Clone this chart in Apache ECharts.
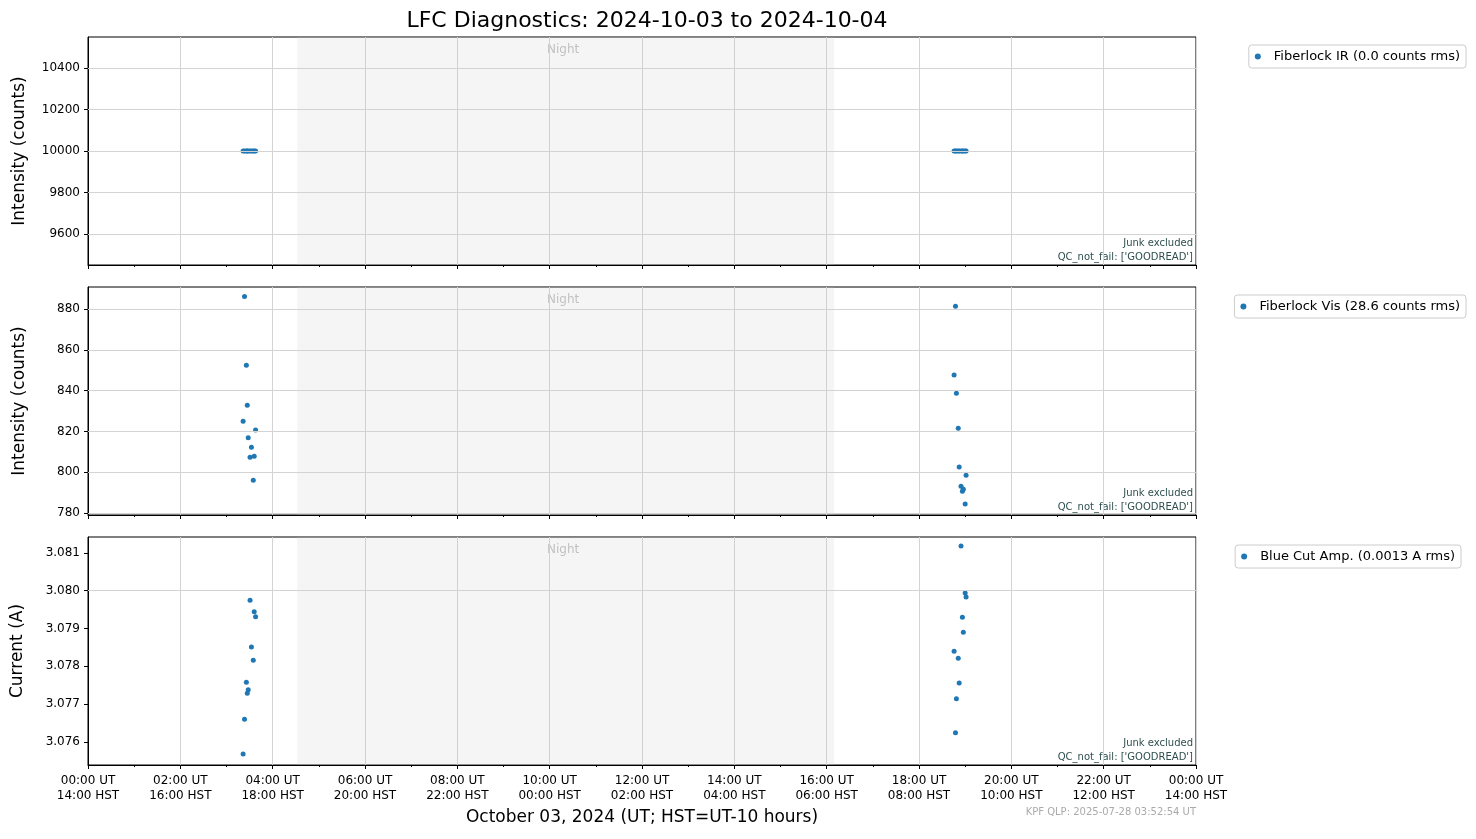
<!DOCTYPE html>
<html><head><meta charset="utf-8">
<script src="https://cdn.jsdelivr.net/npm/echarts@6/dist/echarts.min.js"></script>
<style>html,body{margin:0;padding:0;background:#fff}#c{width:1476px;height:839px}</style>
</head><body><div id="c"></div>
<script>
// hours since 2024-10-03 00:00 UT
const timesIR = [3.36,3.39,3.43,3.45,3.47,3.51,3.54,3.58,3.60,3.63,18.76,18.79,18.81,18.85,18.87,18.91,18.94,18.96,19.00,19.02];
const valsIR = [10000,10000,10000,10000,10000,10000,10000,10000,10000,10000,10000,10000,10000,10000,10000,10000,10000,10000,10000,10000];
const timesVis = [3.39,3.43,3.45,3.36,3.63,3.47,3.54,3.51,3.60,3.58,18.79,18.76,18.81,18.85,18.87,19.02,18.91,18.96,18.94,19.00];
const valsVis = [886.2,852.4,832.8,825.0,820.7,816.9,812.2,807.3,807.8,796.0,881.3,847.6,838.7,821.5,802.5,798.5,793.1,791.6,790.6,784.4];
const timesAmp = [3.51,3.60,3.63,3.54,3.58,3.43,3.47,3.45,3.39,3.36,18.91,19.00,19.02,18.94,18.96,18.76,18.85,18.87,18.81,18.79];
const valsAmp = [3.07975,3.07944,3.07931,3.07851,3.07816,3.07758,3.07738,3.07729,3.07660,3.07568,3.08118,3.07994,3.07983,3.07930,3.07890,3.07840,3.07821,3.07756,3.07714,3.07624];
const nightStart = 4.53, nightEnd = 16.16;
const utLabels = ['00:00 UT','02:00 UT','04:00 UT','06:00 UT','08:00 UT','10:00 UT','12:00 UT','14:00 UT','16:00 UT','18:00 UT','20:00 UT','22:00 UT','00:00 UT'];
const hstLabels = ['14:00 HST','16:00 HST','18:00 HST','20:00 HST','22:00 HST','00:00 HST','02:00 HST','04:00 HST','06:00 HST','08:00 HST','10:00 HST','12:00 HST','14:00 HST'];
const yTicks1 = [9600,9800,10000,10200,10400];
const yTicks2 = [780,800,820,840,860,880];
const yTicks3 = [3.076,3.077,3.078,3.079,3.080,3.081];
const legendNames = ['Fiberlock IR (0.0 counts rms)','Fiberlock Vis (28.6 counts rms)','Blue Cut Amp. (0.0013 A rms)'];
const yTitles = ['Intensity (counts)','Intensity (counts)','Current (A)'];

const ff = 'DejaVu Sans';
const tops = [37,287,537];
const ranges = [[9450,10550],[779,890.8],[3.07539,3.08142]];
const yTicks = [yTicks1,yTicks2,yTicks3];
const chart = echarts.init(document.getElementById('c'));
const grids=[],xAxes=[],yAxes=[],series=[],legends=[],graphics=[];
const datas = [[timesIR,valsIR],[timesVis,valsVis],[timesAmp,valsAmp]];
for(let i=0;i<3;i++){
  grids.push({left:88,width:1108,top:tops[i],height:228,show:true,borderColor:'#000',borderWidth:1,backgroundColor:'transparent'});
  xAxes.push({type:'value',gridIndex:i,min:0,max:24,interval:2,
    axisLine:{show:true,onZero:false,lineStyle:{color:'#000'}},
    axisTick:{show:true,length:4,lineStyle:{color:'#000'}},
    minorTick:{show:true,splitNumber:2,length:2,lineStyle:{color:'#000'}},
    splitLine:{show:true,lineStyle:{color:'#d3d3d3'}},
    axisLabel:{show:i===2,color:'#000',fontFamily:ff,fontSize:12,lineHeight:15,
      formatter:v=>{const k=Math.round(v/2);return utLabels[k]+'\n'+hstLabels[k];}},
    name:i===2?'October 03, 2024 (UT; HST=UT-10 hours)':'',nameLocation:'middle',nameGap:44,
    nameTextStyle:{fontFamily:ff,fontSize:17,color:'#000'}});
  const r=ranges[i];
  yAxes.push({type:'value',gridIndex:i,min:r[0],max:r[1],
    axisLine:{show:true,lineStyle:{color:'#000'}},
    axisTick:{show:true,length:4,customValues:yTicks[i],lineStyle:{color:'#000'}},
    splitLine:{show:false},
    axisLabel:{color:'#000',fontFamily:ff,fontSize:12,customValues:yTicks[i],
      formatter:v=>i===2?v.toFixed(3):String(Math.round(v))},
    name:yTitles[i],nameLocation:'middle',nameGap:i===2?62:60,
    nameTextStyle:{fontFamily:ff,fontSize:17,color:'#000'}});
  series.push({type:'scatter',name:legendNames[i],xAxisIndex:i,yAxisIndex:i,symbolSize:5,
    itemStyle:{color:'#1f77b4',opacity:1},
    data:datas[i][0].map((t,j)=>[t,datas[i][1][j]]),
    markLine:{silent:true,symbol:'none',label:{show:false},lineStyle:{color:'#d3d3d3',type:'solid',width:1},
      data:yTicks[i].map(v=>({yAxis:v}))},
    markArea:{silent:true,itemStyle:{color:'rgba(200,200,200,0.18)'},data:[[{xAxis:nightStart},{xAxis:nightEnd}]]}});
  graphics.push({type:'text',left:547,top:tops[i]+7,style:{text:'Night',font:'12px "DejaVu Sans"',fill:'#c0c0c0'}});
  graphics.push({type:'text',right:283,top:tops[i]+201,style:{text:"Junk excluded",font:'10px "DejaVu Sans"',fill:'#2f4f4f'}});
  graphics.push({type:'text',right:283,top:tops[i]+215,style:{text:"QC_not_fail: ['GOODREAD']",font:'10px "DejaVu Sans"',fill:'#2f4f4f'}});
}
legends.push({data:[legendNames[0]],right:10,top:45,orient:'vertical'});
legends.push({data:[legendNames[1]],right:10,top:295,orient:'vertical'});
legends.push({data:[legendNames[2]],right:15,top:545,orient:'vertical'});
legends.forEach(l=>{Object.assign(l,{borderColor:'#ccc',borderWidth:1,borderRadius:3,padding:[5,6],itemWidth:6,itemHeight:6,itemGap:10,icon:'circle',textStyle:{fontFamily:ff,fontSize:13,color:'#000',padding:[0,0,0,8]}});});
graphics.push({type:'text',right:280,top:807,style:{text:'KPF QLP: 2025-07-28 03:52:54 UT',font:'10px "DejaVu Sans"',fill:'#aaa'}});
chart.setOption({
  animation:false,
  title:{text:'LFC Diagnostics: 2024-10-03 to 2024-10-04',left:642,top:5,textAlign:'center',textStyle:{fontFamily:ff,fontSize:22,fontWeight:'normal',color:'#000'}},
  grid:grids,xAxis:xAxes,yAxis:yAxes,series:series,legend:legends,graphic:graphics
});
</script></body></html>
